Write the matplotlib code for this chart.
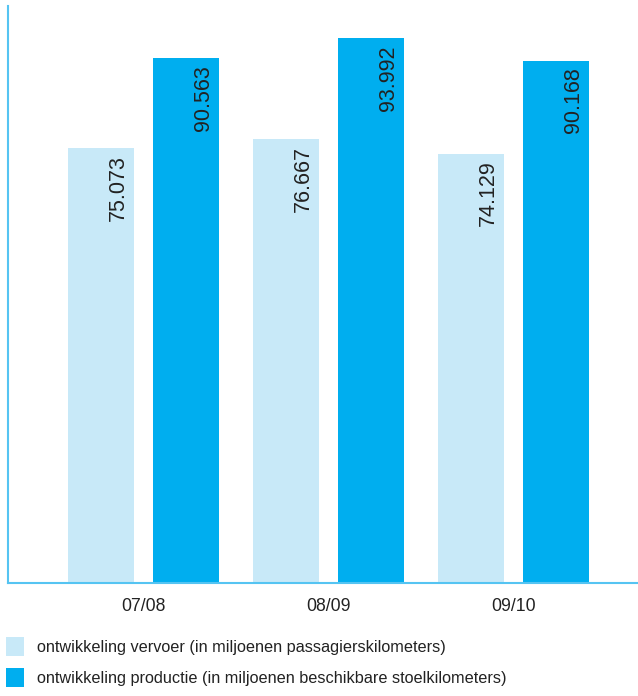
import numpy as np
import matplotlib
matplotlib.use("Agg")
import matplotlib.pyplot as plt

plt.rcParams['font.family'] = ['Liberation Sans', 'DejaVu Sans']

seasons = ['07/08', '08/09', '09/10']
vervoer = [75.073, 76.667, 74.129]
productie = [90.563, 93.992, 90.168]
series_names = ['ontwikkeling vervoer (in miljoenen passagierskilometers)',
                'ontwikkeling productie (in miljoenen beschikbare stoelkilometers)']

light = '#c8e9f8'
dark = '#00aeef'
spine = '#55c4f2'
txt = '#222222'

fig = plt.figure(figsize=(6.38, 6.96), dpi=100)
ax = fig.add_axes([8/638, 113/696, 630/638, 577/696])

x = np.arange(len(seasons))
w = 0.357
off = 0.23
b1 = ax.bar(x - off, vervoer, w, color=light, label=series_names[0])
b2 = ax.bar(x + off, productie, w, color=dark, label=series_names[1])

for bars in (b1, b2):
    for r in bars:
        h = r.get_height()
        ax.annotate(f'{h:.3f}', (r.get_x() + r.get_width(), h),
                    xytext=(-3.5, -5), textcoords='offset points',
                    rotation=90, ha='right', va='top',
                    fontsize=15.5, color=txt)

ax.set_xlim(-0.732, 2.673)
ax.set_ylim(0, 99.6)
ax.set_xticks(x)
ax.set_xticklabels(seasons, fontsize=12.7, color=txt)
ax.tick_params(axis='x', length=0, pad=11)
ax.set_yticks([])
for s in ('top', 'right'):
    ax.spines[s].set_visible(False)
for s in ('left', 'bottom'):
    ax.spines[s].set_color(spine)
    ax.spines[s].set_linewidth(1.5)

fig.legend(handles=[b1, b2], loc='upper left', bbox_to_anchor=(6/638, 59/696),
           frameon=False, fontsize=11.7, handlelength=1.1, handleheight=1.4,
           handletextpad=0.8, labelspacing=0.75, borderaxespad=0, borderpad=0,
           labelcolor=txt)

fig.savefig('out.png', dpi=100)
